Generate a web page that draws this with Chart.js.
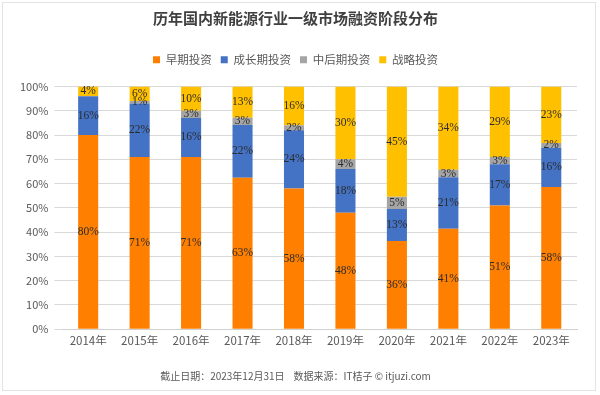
<!DOCTYPE html>
<html>
<head>
<meta charset="utf-8">
<script src="https://cdn.jsdelivr.net/npm/chart.js@4"></script>
<style>
  html, body { margin: 0; padding: 0; background: #fff; }
  #wrap { position: relative; width: 600px; height: 395px; }
  #cadre { position: absolute; left: 2px; top: 2px; width: 594px; height: 389px; border: 1px solid #e3e3e3; box-sizing: border-box; pointer-events: none; }
</style>
</head>
<body>
<div id="wrap">
  <canvas id="graphe" width="600" height="395"></canvas>
  <div id="cadre"></div>
</div>
<script>
// données
const annees = ['2014年', '2015年', '2016年', '2017年', '2018年', '2019年', '2020年', '2021年', '2022年', '2023年'];
const precoce = [80, 71, 71, 63, 58, 48, 36, 41, 51, 58];
const croissance = [16, 22, 16, 22, 24, 18, 13, 21, 17, 16];
const avance = [0, 1, 3, 3, 2, 4, 5, 3, 3, 2];
const strategique = [4, 6, 10, 13, 16, 30, 45, 34, 29, 23];

const police = '"Noto Sans CJK SC", "Noto Sans", sans-serif';

// graphique 100% empilé : chaque année ramenée à 100 (les étiquettes gardent les valeurs lues)
const totaux = annees.map((a, i) => precoce[i] + croissance[i] + avance[i] + strategique[i]);
const enPart = serie => serie.map((v, i) => v / totaux[i] * 100);

// plugin maison pour afficher les pourcentages au milieu des barres
const etiquettes = {
    id: 'etiquettes',
    afterDatasetsDraw(chart) {
        const ctx = chart.ctx;
        ctx.save();
        ctx.font = '11.5px "Liberation Serif", "Noto Sans CJK SC", serif';
        ctx.fillStyle = '#2b2b2b';
        ctx.textAlign = 'center';
        ctx.textBaseline = 'middle';
        chart.data.datasets.forEach((ds, i) => {
            const meta = chart.getDatasetMeta(i);
            meta.data.forEach((barre, j) => {
                const v = ds.valeurs[j];
                if (!v) return;
                const y = (barre.y + barre.base) / 2;
                ctx.fillText(v + '%', barre.x, y);
            });
        });
        ctx.restore();
    }
};

// un peu plus d'espace sous la légende
const margeLegende = {
    id: 'margeLegende',
    beforeInit(chart) {
        const fitOrig = chart.legend.fit;
        chart.legend.fit = function () {
            fitOrig.bind(chart.legend)();
            this.height += 11;
        };
    }
};

const largeur = 0.39;

new Chart(document.getElementById('graphe'), {
    type: 'bar',
    data: {
        labels: annees,
        datasets: [
            { label: '早期投资', data: enPart(precoce), valeurs: precoce, backgroundColor: '#FF7F00', categoryPercentage: 1, barPercentage: largeur },
            { label: '成长期投资', data: enPart(croissance), valeurs: croissance, backgroundColor: '#4472C4', categoryPercentage: 1, barPercentage: largeur },
            { label: '中后期投资', data: enPart(avance), valeurs: avance, backgroundColor: '#A5A5A5', categoryPercentage: 1, barPercentage: largeur },
            { label: '战略投资', data: enPart(strategique), valeurs: strategique, backgroundColor: '#FFC000', categoryPercentage: 1, barPercentage: largeur }
        ]
    },
    options: {
        responsive: false,
        animation: false,
        layout: { padding: { left: 14, right: 23, top: 9, bottom: 11 } },
        plugins: {
            title: {
                display: true,
                text: '历年国内新能源行业一级市场融资阶段分布',
                color: '#404040',
                font: { family: police, size: 15, weight: 'bold' },
                padding: { top: 0, bottom: 18 }
            },
            subtitle: {
                display: true,
                position: 'bottom',
                text: '截止日期：2023年12月31日    数据来源：IT桔子 © itjuzi.com',
                color: '#595959',
                font: { family: police, size: 10 },
                padding: { top: 25, bottom: 2 }
            },
            legend: {
                labels: {
                    boxWidth: 7,
                    boxHeight: 7,
                    padding: 9,
                    color: '#595959',
                    font: { family: police, size: 11.5 }
                }
            },
            tooltip: { enabled: false }
        },
        scales: {
            x: {
                stacked: true,
                grid: { display: false },
                border: { color: '#d0d0d0' },
                ticks: { padding: -3, color: '#595959', font: { family: police, size: 11.5 } }
            },
            y: {
                stacked: true,
                min: 0,
                max: 100,
                border: { display: false },
                grid: { color: '#d9d9d9' },
                ticks: {
                    stepSize: 10,
                    padding: 6,
                    color: '#595959',
                    font: { family: police, size: 11 },
                    callback: v => v + '%'
                }
            }
        }
    },
    plugins: [etiquettes, margeLegende]
});
</script>
</body>
</html>
